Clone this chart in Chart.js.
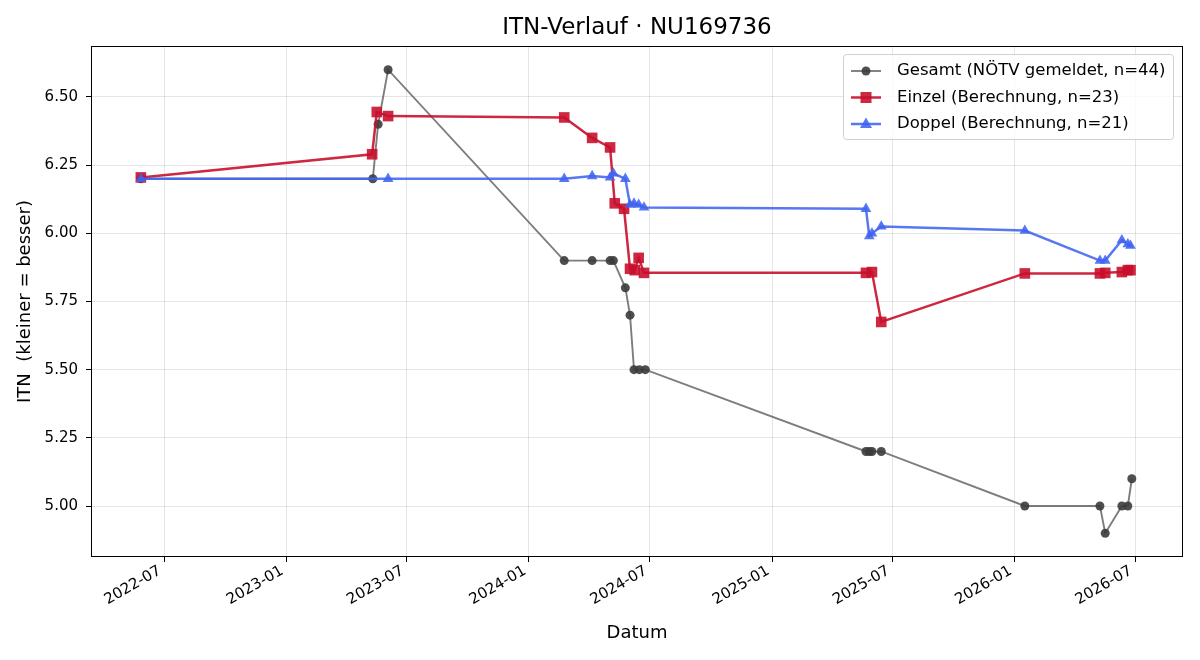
<!DOCTYPE html>
<html>
<head>
<meta charset="utf-8">
<script src="https://cdn.jsdelivr.net/npm/chart.js@4"></script>
<style>
  html, body { margin: 0; padding: 0; background: #fff; }
  #wrap { width: 1200px; height: 660px; }
</style>
</head>
<body>
<div id="wrap"><canvas id="itnChart" width="1200" height="660"></canvas></div>
<script>
// --- DATA ---
const gesamtDates = ['2022-05-27', '2023-05-11', '2023-05-19', '2023-06-03', '2024-02-23', '2024-04-05', '2024-05-02', '2024-05-07', '2024-05-25', '2024-06-01', '2024-06-07', '2024-06-15', '2024-06-24', '2025-05-22', '2025-05-27', '2025-05-31', '2025-06-14', '2026-01-16', '2026-05-09', '2026-05-17', '2026-06-11', '2026-06-20', '2026-06-26'];
const gesamtValues = [6.20, 6.20, 6.40, 6.60, 5.90, 5.90, 5.90, 5.90, 5.80, 5.70, 5.50, 5.50, 5.50, 5.20, 5.20, 5.20, 5.20, 5.00, 5.00, 4.90, 5.00, 5.00, 5.10];

const einzelDates = ['2022-05-27', '2023-05-10', '2023-05-17', '2023-06-03', '2024-02-23', '2024-04-05', '2024-05-02', '2024-05-09', '2024-05-23', '2024-06-01', '2024-06-08', '2024-06-14', '2024-06-22', '2025-05-22', '2025-05-31', '2025-06-14', '2026-01-16', '2026-05-09', '2026-05-17', '2026-06-11', '2026-06-20', '2026-06-24'];
const einzelValues = [6.205, 6.29, 6.445, 6.43, 6.425, 6.35, 6.315, 6.11, 6.09, 5.87, 5.865, 5.91, 5.855, 5.855, 5.858, 5.675, 5.853, 5.853, 5.855, 5.858, 5.865, 5.865];

const doppelDates = ['2022-05-27', '2023-06-03', '2024-02-23', '2024-04-05', '2024-05-02', '2024-05-07', '2024-05-25', '2024-06-01', '2024-06-07', '2024-06-14', '2024-06-22', '2025-05-22', '2025-05-27', '2025-05-31', '2025-06-14', '2026-01-16', '2026-05-09', '2026-05-17', '2026-06-11', '2026-06-20', '2026-06-24'];
const doppelValues = [6.20, 6.20, 6.20, 6.21, 6.205, 6.22, 6.20, 6.105, 6.11, 6.105, 6.095, 6.09, 5.99, 6.00, 6.025, 6.01, 5.90, 5.90, 5.975, 5.96, 5.955];

const tickDates = ['2022-07-01', '2023-01-01', '2023-07-01', '2024-01-01', '2024-07-01', '2025-01-01', '2025-07-01', '2026-01-01', '2026-07-01'];
const yTicks = [5.00, 5.25, 5.50, 5.75, 6.00, 6.25, 6.50];

const seriesLabels = ['Gesamt (NÖTV gemeldet, n=44)', 'Einzel (Berechnung, n=23)', 'Doppel (Berechnung, n=21)'];

const FONT = '"DejaVu Sans", sans-serif';
const toMs = d => Date.parse(d + 'T00:00:00Z');
const pts = (dates, vals) => dates.map((d, i) => ({ x: toMs(d), y: vals[i] }));

const xMin = toMs('2022-03-13');
const xMax = toMs('2026-09-11');

// frame, title and legend box drawn matplotlib-style
const decorPlugin = {
    id: 'decor',
    afterDraw(chart) {
        const { ctx, chartArea: a } = chart;
        ctx.save();
        ctx.strokeStyle = '#000';
        ctx.lineWidth = 1;
        ctx.strokeRect(a.left + 0.5, a.top + 0.5, a.right - a.left - 1, a.bottom - a.top - 1);

        ctx.fillStyle = '#000';
        ctx.font = '23px ' + FONT;
        ctx.textAlign = 'center';
        ctx.textBaseline = 'middle';
        ctx.fillText('ITN-Verlauf · NU169736', (a.left + a.right) / 2, 28);

        // legend
        const bx = 843, by = 54, bw = 330, bh = 85;
        ctx.fillStyle = 'rgba(255,255,255,0.8)';
        ctx.strokeStyle = '#d0d0d0';
        ctx.beginPath();
        ctx.roundRect(bx + 0.5, by + 0.5, bw, bh, 3);
        ctx.fill();
        ctx.stroke();

        chart.data.datasets.forEach((ds, i) => {
            const y = by + 17 + i * 26.5;
            ctx.strokeStyle = ds.borderColor;
            ctx.lineWidth = ds.borderWidth;
            ctx.beginPath();
            ctx.moveTo(851, y);
            ctx.lineTo(881, y);
            ctx.stroke();
            ctx.fillStyle = ds.pointBackgroundColor;
            ctx.beginPath();
            if (ds.pointStyle === 'circle') {
                ctx.arc(866, y, 4.5, 0, Math.PI * 2);
            } else if (ds.pointStyle === 'rect') {
                ctx.rect(860.5, y - 5.5, 11, 11);
            } else {
                ctx.moveTo(866, y - 6.5);
                ctx.lineTo(872, y + 4);
                ctx.lineTo(860, y + 4);
                ctx.closePath();
            }
            ctx.fill();
            ctx.fillStyle = '#000';
            ctx.font = '16.5px ' + FONT;
            ctx.textAlign = 'left';
            ctx.textBaseline = 'middle';
            ctx.fillText(ds.label, 897, y);
        });
        ctx.restore();
    }
};

new Chart(document.getElementById('itnChart'), {
    type: 'line',
    data: {
        datasets: [
            {
                label: seriesLabels[0],
                data: pts(gesamtDates, gesamtValues),
                order: 3,
                borderColor: 'rgba(70,70,70,0.7)',
                backgroundColor: 'rgba(60,60,60,0.9)',
                pointBackgroundColor: 'rgba(60,60,60,0.9)',
                pointBorderWidth: 0,
                pointStyle: 'circle',
                pointRadius: 4.5,
                borderWidth: 1.9,
                tension: 0
            },
            {
                label: seriesLabels[1],
                data: pts(einzelDates, einzelValues),
                order: 2,
                borderColor: 'rgba(200,16,46,0.9)',
                backgroundColor: 'rgba(200,16,46,0.9)',
                pointBackgroundColor: 'rgba(200,16,46,0.9)',
                pointBorderWidth: 0,
                pointStyle: 'rect',
                pointRadius: 7.5,
                borderWidth: 2.5,
                tension: 0
            },
            {
                label: seriesLabels[2],
                data: pts(doppelDates, doppelValues),
                order: 1,
                borderColor: 'rgba(65,100,240,0.88)',
                backgroundColor: 'rgba(65,100,240,0.88)',
                pointBackgroundColor: 'rgba(65,100,240,0.88)',
                pointBorderWidth: 0,
                pointStyle: 'triangle',
                pointRadius: 6.2,
                borderWidth: 2.5,
                tension: 0
            }
        ]
    },
    options: {
        responsive: false,
        animation: false,
        layout: { padding: { top: 46, right: 17, left: 0, bottom: 0 } },
        plugins: {
            legend: { display: false },
            title: { display: false },
            tooltip: { enabled: false }
        },
        scales: {
            x: {
                type: 'linear',
                min: xMin,
                max: xMax,
                afterBuildTicks: scale => {
                    scale.ticks = tickDates.map(d => ({ value: toMs(d) }));
                },
                afterFit: scale => { scale.height = 103; },
                ticks: {
                    autoSkip: false,
                    minRotation: 30,
                    maxRotation: 30,
                    padding: 0,
                    labelOffset: -4,
                    color: '#000',
                    font: { family: FONT, size: 15 },
                    callback: v => new Date(v).toISOString().slice(0, 7)
                },
                grid: { color: 'rgba(0,0,0,0.1)', tickColor: '#000', tickLength: 5 },
                border: { display: false },
                title: { display: true, text: 'Datum', color: '#000', font: { family: FONT, size: 18 }, padding: { top: 0, bottom: 16 } }
            },
            y: {
                min: 4.813,
                max: 6.687,
                afterBuildTicks: scale => {
                    scale.ticks = yTicks.map(v => ({ value: v }));
                },
                afterFit: scale => { scale.width = 91; },
                ticks: {
                    padding: 8,
                    color: '#000',
                    font: { family: FONT, size: 15 },
                    callback: v => Number(v).toFixed(2)
                },
                grid: { color: 'rgba(0,0,0,0.1)', tickColor: '#000', tickLength: 5 },
                border: { display: false },
                title: { display: true, text: 'ITN  (kleiner = besser)', color: '#000', font: { family: FONT, size: 18 }, padding: { bottom: 0, top: 15 } }
            }
        }
    },
    plugins: [decorPlugin]
});
</script>
</body>
</html>
